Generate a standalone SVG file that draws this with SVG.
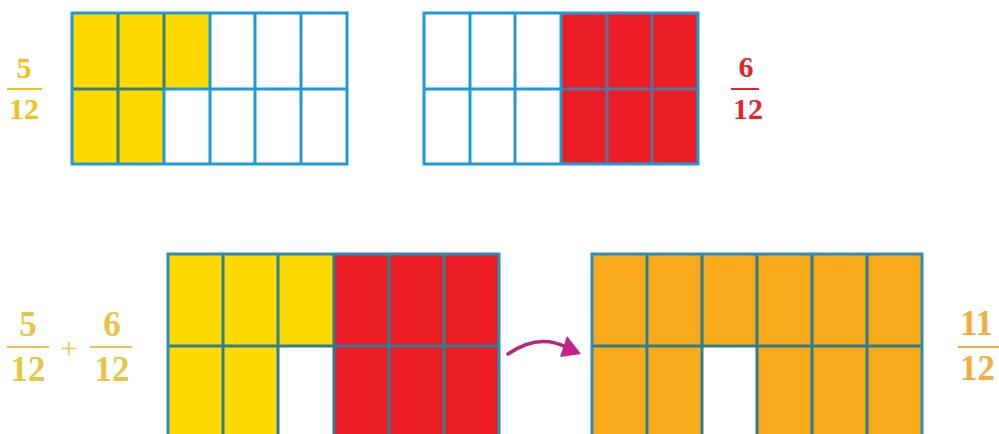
<svg xmlns="http://www.w3.org/2000/svg" width="999" height="434" viewBox="0 0 999 434">
<style>
.y{fill:#FFDA00}.r{fill:#EC1C24}.o{fill:#F9AA1B}.w{fill:#FFFFFF}
.gt{fill:none;stroke:#1E9BD7;stroke-width:3}
.gd{fill:none;stroke:#3A7F78;stroke-width:3}
.gr{fill:none;stroke:#5C6E9E;stroke-width:3}
.gb{fill:none;stroke:#2D7F8F;stroke-width:3}
.bb{fill:none;stroke:#2A8DBE;stroke-width:3}
.ft{font-family:"Liberation Serif",serif;font-weight:bold;font-size:30px;text-anchor:middle}
.fb{font-family:"Liberation Serif",serif;font-weight:bold;font-size:35px;text-anchor:middle}
.arrow{fill:none;stroke:#B8247F;stroke-width:3.5;stroke-linecap:round}
.head{fill:#C4238A}
</style>
<rect width="999" height="434" fill="#FFFFFF"/>

<g id="frac-5-12" fill="#F5C016">
<text class="ft" x="24" y="78">5</text>
<rect x="7" y="88" width="35" height="2"/>
<text class="ft" x="24" y="119">12</text>
</g>

<g id="grid-5-12">
<rect class="y" x="72" y="13" width="138" height="76"/>
<rect class="y" x="72" y="89" width="92" height="75"/>
<path class="gd" d="M118,13V164M164,13V89M72,89H164"/>
<path class="gt" d="M164,89V164M210,13V164M255,13V164M301,13V164M164,89H347"/>
<rect class="gt" x="72" y="13" width="275" height="151"/>
</g>

<g id="grid-6-12">
<rect class="r" x="561" y="13" width="137" height="151"/>
<path class="gr" d="M607,13V164M652,13V164M561,89H698"/>
<path class="gt" d="M470,13V164M515,13V164M561,13V164M424,89H561"/>
<rect class="gt" x="424" y="13" width="274" height="151"/>
</g>

<g id="frac-6-12" fill="#E4242B">
<text class="ft" x="746" y="77">6</text>
<rect x="731" y="88" width="28" height="2"/>
<text class="ft" x="748" y="119">12</text>
</g>

<g id="frac-sum" fill="#EBC445">
<text class="fb" x="28" y="336">5</text>
<rect x="7" y="346" width="42" height="2"/>
<text class="fb" x="28" y="381">12</text>
<text class="fb" x="69" y="358" style="font-weight:normal;font-size:30px">+</text>
<text class="fb" x="112" y="336">6</text>
<rect x="90" y="346" width="42" height="2"/>
<text class="fb" x="112" y="381">12</text>
</g>

<g id="grid-sum">
<rect class="y" x="168" y="254" width="166" height="92"/>
<rect class="y" x="168" y="346" width="110" height="92"/>
<rect class="r" x="334" y="254" width="165" height="184"/>
<path class="gb" d="M223,254V438M278,254V438M334,254V438M389,254V438M444,254V438M168,346H499"/>
<rect class="bb" x="168" y="254" width="331" height="190"/>
</g>

<g id="connectors">
<path class="arrow" d="M508,354 Q538,333 566,347"/>
<polygon class="head" points="567,336 581,354 560,357"/>
</g>

<g id="grid-11-12">
<rect class="o" x="592" y="254" width="330" height="184"/>
<rect class="w" x="702" y="346" width="55" height="92"/>
<path class="gb" d="M647,254V438M702,254V438M757,254V438M812,254V438M867,254V438M592,346H922"/>
<rect class="bb" x="592" y="254" width="330" height="190"/>
</g>

<g id="frac-11-12" fill="#F3AE3F">
<text class="fb" x="960" y="335" style="text-anchor:start">11</text>
<rect x="958" y="346" width="45" height="2"/>
<text class="fb" x="960" y="380" style="text-anchor:start">12</text>
</g>
</svg>
